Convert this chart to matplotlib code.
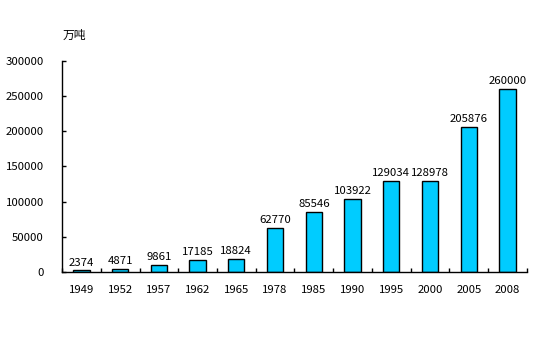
import matplotlib
matplotlib.use("Agg")
import matplotlib.pyplot as plt
import numpy as np

plt.rcParams['font.family'] = ['Noto Sans CJK SC', 'DejaVu Sans']

years = ['1949', '1952', '1957', '1962', '1965', '1978', '1985', '1990', '1995', '2000', '2005', '2008']
values = [2374, 4871, 9861, 17185, 18824, 62770, 85546, 103922, 129034, 128978, 205876, 260000]
yticks = [0, 50000, 100000, 150000, 200000, 250000, 300000]

fig = plt.figure(figsize=(5.54, 3.38), dpi=100)
ax = fig.add_axes([0.112, 0.195, 0.839, 0.625])
x = np.arange(len(years))
ax.bar(x, values, width=0.42, color='#00CCFF', edgecolor='black', linewidth=1.0)
for xi, v in zip(x, values):
    ax.text(xi, v + 4000, str(v), ha='center', va='bottom', fontsize=8.2)
ax.set_xlim(-0.5, len(years) - 0.5)
ax.set_ylim(0, 300000)
ax.set_yticks(yticks)
ax.set_yticklabels([str(t) for t in yticks], fontsize=8.2)
ax.set_xticks(x)
ax.set_xticklabels(years, fontsize=8.2)
ax.tick_params(axis='x', length=0, pad=9)
ax.set_xticks(np.arange(len(years) + 1) - 0.5, minor=True)
ax.tick_params(axis='x', which='minor', direction='in', length=3, width=1)
ax.tick_params(axis='y', direction='in', length=3, width=1, pad=13)
for s in ['top', 'right']:
    ax.spines[s].set_visible(False)
for s in ['left', 'bottom']:
    ax.spines[s].set_linewidth(1.0)
fig.text(0.113, 0.895, '万吨', fontsize=8.5, ha='left', va='center')
fig.savefig('out.png', dpi=100)
